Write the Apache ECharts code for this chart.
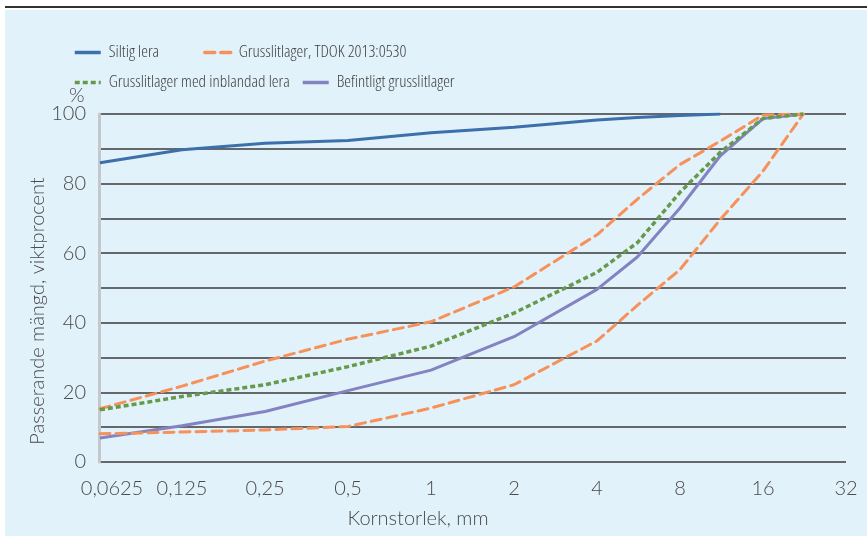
<!DOCTYPE html>
<html>
<head>
<meta charset="utf-8">
<script src="https://cdn.jsdelivr.net/npm/echarts@6/dist/echarts.min.js"></script>
<style>
html,body{margin:0;padding:0;background:#fff;}
#chart{width:867px;height:536px;}
</style>
</head>
<body>
<div id="chart"></div>
<script>
// ---- data ----
const xTickValues = [0.0625, 0.125, 0.25, 0.5, 1, 2, 4, 8, 16, 32];
const xTickLabels = ['0,0625', '0,125', '0,25', '0,5', '1', '2', '4', '8', '16', '32'];
const sieves = [0.063, 0.125, 0.25, 0.5, 1, 2, 4, 5.6, 8, 11.2, 16, 22.4];
const siltigLera = [86, 89.7, 91.6, 92.4, 94.6, 96.2, 98.3, 99, 99.6, 100];
const tdokUpper = [15.3, 21.8, 29, 35.3, 40.3, 50.3, 65.3, 75.5, 85.5, 92.2, 99.7, 100];
const tdokLower = [8.1, 8.6, 9.2, 10.2, 15.5, 22.2, 34.8, 45, 55.3, 69.7, 83.6, 100];
const grusLera = [15, 18.8, 22.2, 27.4, 33.3, 42.8, 54.5, 63, 77.5, 89, 98.7, 100];
const befintligt = [6.9, 10.4, 14.5, 20.5, 26.4, 36, 49.6, 58.9, 73, 88, 98.7, 100];
const seriesNames = ['Siltig lera', 'Grusslitlager, TDOK 2013:0530', 'Grusslitlager med inblandad lera', 'Befintligt grusslitlager'];
const yTitle = 'Passerande mängd, viktprocent';
const xTitle = 'Kornstorlek, mm';
const yUnit = '%';

const pair = (vals) => vals.map((v, i) => [sieves[i], v]);

const C_BLUE = '#3D70AA', C_ORANGE = '#F7915A', C_GREEN = '#66994A', C_PURPLE = '#8483C2';
const AXIS_FONT = 'Lato, "Open Sans", sans-serif';
const TXT = '#4a4a4a';

const chart = echarts.init(document.getElementById('chart'), null, {renderer: 'canvas'});

function legendAt(name, left, top) {
  return {
    data: [name], left: left, top: top, orient: 'horizontal',
    itemWidth: 26, itemHeight: 12, padding: 0,
    itemStyle: {opacity: 0},
    lineStyle: {width: 3.5},
    textStyle: {fontFamily: '"Open Sans"', fontStyle: 'condensed', fontWeight: 300, fontSize: 17, color: '#3f3f3f', padding: [0, 0, 0, 3]}
  };
}

chart.setOption({
  backgroundColor: '#ffffff',
  animation: false,
  graphic: [
    {type: 'rect', z: -10, shape: {x: 5, y: 10, width: 862, height: 526}, style: {fill: '#E1F2FA'}},
    {type: 'line', z: -9, shape: {x1: 5, y1: 7, x2: 867, y2: 7}, style: {stroke: '#333', lineWidth: 2}},
    {type: 'text', left: 69, top: 86, style: {text: yUnit, font: '300 20px ' + AXIS_FONT, fill: TXT}},
    {type: 'text', x: 38, y: 311, rotation: Math.PI / 2,
      style: {text: yTitle, font: '300 20px ' + AXIS_FONT, fill: TXT, align: 'center', verticalAlign: 'middle'}},
    {type: 'text', x: 418, y: 519,
      style: {text: xTitle, font: '300 20px ' + AXIS_FONT, fill: TXT, align: 'center', verticalAlign: 'middle'}}
  ],
  legend: [
    legendAt(seriesNames[0], 73, 44),
    legendAt(seriesNames[1], 203, 44),
    legendAt(seriesNames[2], 73, 74),
    legendAt(seriesNames[3], 301, 74)
  ],
  grid: {left: 99, right: 21, top: 114, bottom: 74, containLabel: false},
  xAxis: {
    type: 'log', logBase: 2, min: 0.0625, max: 32,
    axisLine: {show: false}, axisTick: {show: false}, splitLine: {show: false},
    axisLabel: {
      fontFamily: AXIS_FONT, fontWeight: 300, fontSize: 20, color: TXT, margin: 17,
      formatter: (v) => {
        const i = xTickValues.findIndex(t => Math.abs(Math.log2(t) - Math.log2(v)) < 1e-6);
        if (i < 0) return '';
        return i === 0 ? '{first|' + xTickLabels[i] + '}' : xTickLabels[i];
      },
      rich: {first: {fontFamily: AXIS_FONT, fontWeight: 300, fontSize: 20, color: TXT, padding: [0, 0, 0, 26]}}
    }
  },
  yAxis: {
    type: 'value', min: 0, max: 100, interval: 10,
    axisLine: {show: true, lineStyle: {color: '#C4C8CC', width: 3}},
    axisTick: {show: false},
    splitLine: {show: true, lineStyle: {color: '#3a3a3a', width: 1.5}},
    axisLabel: {
      fontFamily: AXIS_FONT, fontWeight: 300, fontSize: 20, color: TXT, margin: 13,
      formatter: (v) => (v % 20 === 0 ? String(v) : '')
    }
  },
  series: [
    {name: seriesNames[0], type: 'line', data: pair(siltigLera), showSymbol: false, symbol: 'none',
      lineStyle: {color: C_BLUE, width: 3}, itemStyle: {color: C_BLUE}, z: 5},
    {name: seriesNames[1], type: 'line', data: pair(tdokUpper), showSymbol: false, symbol: 'none',
      lineStyle: {color: C_ORANGE, width: 3, type: [10, 6], cap: 'round'}, itemStyle: {color: C_ORANGE}, z: 3},
    {name: seriesNames[1], type: 'line', data: pair(tdokLower), showSymbol: false, symbol: 'none',
      lineStyle: {color: C_ORANGE, width: 3, type: [10, 6], cap: 'round'}, itemStyle: {color: C_ORANGE}, z: 3},
    {name: seriesNames[2], type: 'line', data: pair(grusLera), showSymbol: false, symbol: 'none',
      lineStyle: {color: C_GREEN, width: 3.5, type: [5, 3]}, itemStyle: {color: C_GREEN}, z: 4},
    {name: seriesNames[3], type: 'line', data: pair(befintligt), showSymbol: false, symbol: 'none',
      lineStyle: {color: C_PURPLE, width: 3}, itemStyle: {color: C_PURPLE}, z: 2}
  ]
});
</script>
</body>
</html>
